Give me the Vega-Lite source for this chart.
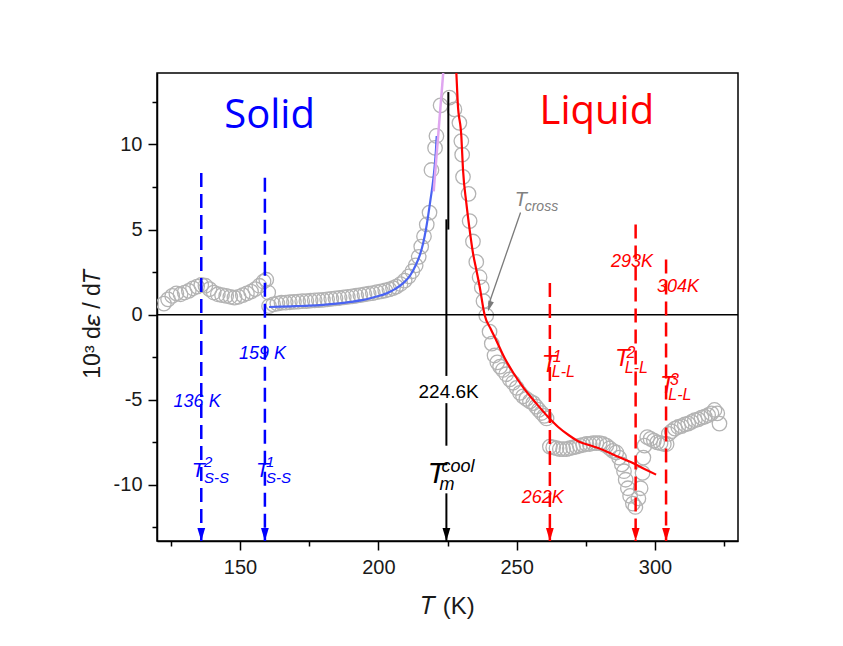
{
  "$schema": "https://vega.github.io/schema/vega-lite/v6.json",
  "width": 581,
  "height": 468,
  "autosize": {"type": "none"},
  "padding": {"left": 157, "top": 73, "right": 105, "bottom": 105},
  "background": "white",
  "config": {
    "view": {"stroke": "black", "strokeWidth": 1.5},
    "axis": {
      "grid": false,
      "domainColor": "black",
      "domainWidth": 1.5,
      "tickColor": "black",
      "tickWidth": 1.5,
      "labelFont": "Liberation Sans",
      "labelFontSize": 20,
      "labelColor": "#1a1a1a",
      "titleFont": "Liberation Sans",
      "titleFontSize": 23,
      "titleFontWeight": "normal",
      "titleColor": "#1a1a1a"
    }
  },
  "datasets": {
    "scatter": [
      {"T": 122.5, "v": 0.65}, {"T": 124, "v": 0.9}, {"T": 125.5, "v": 1.1}, {"T": 127, "v": 1.25},
      {"T": 128.5, "v": 1.2}, {"T": 130, "v": 1.3}, {"T": 131.5, "v": 1.4}, {"T": 133, "v": 1.55},
      {"T": 134.5, "v": 1.65}, {"T": 136, "v": 1.75}, {"T": 137.5, "v": 1.7}, {"T": 139, "v": 1.5},
      {"T": 140.5, "v": 1.3}, {"T": 142, "v": 1.2}, {"T": 143.5, "v": 1.15}, {"T": 145, "v": 1.1},
      {"T": 146.5, "v": 1.05}, {"T": 148, "v": 1.0}, {"T": 149.5, "v": 1.05}, {"T": 151, "v": 1.15},
      {"T": 152.5, "v": 1.25}, {"T": 154, "v": 1.35}, {"T": 155.5, "v": 1.5}, {"T": 157, "v": 1.7},
      {"T": 158.5, "v": 1.95}, {"T": 159.5, "v": 2.05}, {"T": 160.2, "v": 1.3}, {"T": 160.5, "v": 0.5},
      {"T": 162, "v": 0.6}, {"T": 163.5, "v": 0.65}, {"T": 165, "v": 0.7}, {"T": 166.5, "v": 0.71},
      {"T": 168, "v": 0.73}, {"T": 169.5, "v": 0.75}, {"T": 171, "v": 0.77}, {"T": 172.5, "v": 0.79},
      {"T": 174, "v": 0.8}, {"T": 175.5, "v": 0.82}, {"T": 177, "v": 0.84}, {"T": 178.5, "v": 0.85},
      {"T": 180, "v": 0.87}, {"T": 181.5, "v": 0.9}, {"T": 183, "v": 0.93}, {"T": 184.5, "v": 0.96},
      {"T": 186, "v": 0.98}, {"T": 187.5, "v": 1.01}, {"T": 189, "v": 1.04}, {"T": 190.5, "v": 1.07},
      {"T": 192, "v": 1.11}, {"T": 193.5, "v": 1.15}, {"T": 195, "v": 1.19}, {"T": 196.5, "v": 1.23},
      {"T": 198, "v": 1.27}, {"T": 199.5, "v": 1.32}, {"T": 201, "v": 1.37}, {"T": 202.5, "v": 1.42},
      {"T": 204, "v": 1.49}, {"T": 205.3, "v": 1.56}, {"T": 206.5, "v": 1.65}, {"T": 208, "v": 1.8},
      {"T": 209.5, "v": 2.0}, {"T": 211, "v": 2.25}, {"T": 212.3, "v": 2.55}, {"T": 213.5, "v": 2.9},
      {"T": 214.6, "v": 3.4}, {"T": 215.5, "v": 4.0}, {"T": 216.5, "v": 4.6}, {"T": 217.5, "v": 5.3},
      {"T": 218.5, "v": 6.0}, {"T": 219.2, "v": 8.5}, {"T": 220.5, "v": 9.8}, {"T": 221, "v": 10.5},
      {"T": 222.5, "v": 12.3}, {"T": 225.7, "v": 12.75}, {"T": 227.5, "v": 12.06}, {"T": 229.3, "v": 11.27},
      {"T": 230, "v": 10.2}, {"T": 230.3, "v": 9.4}, {"T": 230.6, "v": 8.1}, {"T": 232.6, "v": 7.1},
      {"T": 233, "v": 5.5}, {"T": 234.2, "v": 4.3}, {"T": 235.4, "v": 3.1}, {"T": 236.6, "v": 2.2},
      {"T": 237.4, "v": 1.6}, {"T": 238, "v": 0.8}, {"T": 239, "v": -0.05}, {"T": 240.2, "v": -1.0},
      {"T": 241, "v": -1.7}, {"T": 242, "v": -2.4}, {"T": 243, "v": -2.8}, {"T": 244, "v": -3.05},
      {"T": 245, "v": -3.25}, {"T": 246.2, "v": -3.5}, {"T": 247.5, "v": -3.8}, {"T": 248.7, "v": -4.0},
      {"T": 250, "v": -4.3}, {"T": 251.2, "v": -4.6}, {"T": 252.3, "v": -4.8}, {"T": 253.5, "v": -4.95},
      {"T": 254.8, "v": -5.1}, {"T": 256, "v": -5.2}, {"T": 257, "v": -5.4}, {"T": 258, "v": -5.6},
      {"T": 259, "v": -5.78}, {"T": 260, "v": -5.95}, {"T": 260.8, "v": -6.1}, {"T": 262, "v": -7.75},
      {"T": 263.2, "v": -7.8}, {"T": 264.4, "v": -7.85}, {"T": 265.6, "v": -7.9}, {"T": 266.8, "v": -7.9},
      {"T": 268, "v": -7.9}, {"T": 269.2, "v": -7.85}, {"T": 270.4, "v": -7.8}, {"T": 271.6, "v": -7.75},
      {"T": 272.8, "v": -7.7}, {"T": 274, "v": -7.65}, {"T": 275.2, "v": -7.6}, {"T": 276.4, "v": -7.6},
      {"T": 277.6, "v": -7.55}, {"T": 278.8, "v": -7.55}, {"T": 280, "v": -7.55}, {"T": 281.2, "v": -7.6},
      {"T": 282.4, "v": -7.7}, {"T": 283.6, "v": -7.85}, {"T": 284.8, "v": -8.0}, {"T": 286, "v": -8.1},
      {"T": 287, "v": -8.4}, {"T": 288, "v": -8.8}, {"T": 288.8, "v": -9.2}, {"T": 289.4, "v": -9.7},
      {"T": 290.2, "v": -10.2}, {"T": 291, "v": -10.65}, {"T": 292, "v": -11.1}, {"T": 292.9, "v": -11.3},
      {"T": 294, "v": -10.8}, {"T": 294.8, "v": -10.2}, {"T": 295.5, "v": -9.3}, {"T": 295.8, "v": -8.4},
      {"T": 296.2, "v": -7.7}, {"T": 297.2, "v": -7.2}, {"T": 298.4, "v": -7.3}, {"T": 299.6, "v": -7.4},
      {"T": 300.8, "v": -7.5}, {"T": 302, "v": -7.55}, {"T": 303.2, "v": -7.6}, {"T": 304.2, "v": -7.6},
      {"T": 305, "v": -7.0}, {"T": 306, "v": -6.85}, {"T": 307.2, "v": -6.7}, {"T": 308.4, "v": -6.6},
      {"T": 309.6, "v": -6.55}, {"T": 310.8, "v": -6.45}, {"T": 312, "v": -6.4}, {"T": 313.2, "v": -6.3},
      {"T": 314.4, "v": -6.2}, {"T": 315.6, "v": -6.15}, {"T": 316.8, "v": -6.05}, {"T": 318, "v": -6.0},
      {"T": 319.2, "v": -5.9}, {"T": 320.4, "v": -5.8}, {"T": 321.5, "v": -5.6}, {"T": 322.5, "v": -5.8},
      {"T": 323.3, "v": -6.4}
    ],
    "fitSolid": [
      {"T": 160.5, "v": 0.45}, {"T": 165, "v": 0.47}, {"T": 170, "v": 0.5}, {"T": 175, "v": 0.53},
      {"T": 180, "v": 0.58}, {"T": 185, "v": 0.65}, {"T": 190, "v": 0.75}, {"T": 195, "v": 0.88},
      {"T": 199, "v": 1.05}, {"T": 203, "v": 1.25}, {"T": 206, "v": 1.5}, {"T": 209, "v": 1.85},
      {"T": 211.5, "v": 2.3}, {"T": 213.5, "v": 2.9}, {"T": 215, "v": 3.5}, {"T": 216.2, "v": 4.2},
      {"T": 217.2, "v": 5.0}, {"T": 218, "v": 5.8}, {"T": 218.8, "v": 6.7}, {"T": 219.6, "v": 7.6},
      {"T": 220.3, "v": 8.6}, {"T": 220.8, "v": 9.6}, {"T": 221.1, "v": 10.5}
    ],
    "fitMelt": [
      {"T": 220.0, "v": 7.25}, {"T": 223.45, "v": 14.2}
    ],
    "fitLiquid": [
      {"T": 228.2, "v": 14.2}, {"T": 228.7, "v": 12.45}, {"T": 230, "v": 10.49}, {"T": 230.6, "v": 8.53},
      {"T": 231.8, "v": 6.57}, {"T": 233, "v": 5.0}, {"T": 234.2, "v": 3.63}, {"T": 235.4, "v": 2.65},
      {"T": 236.6, "v": 1.67}, {"T": 238.4, "v": 0.0}, {"T": 240.5, "v": -0.8}, {"T": 242.6, "v": -1.5},
      {"T": 245.5, "v": -2.5}, {"T": 248.7, "v": -3.4}, {"T": 252.5, "v": -4.3}, {"T": 257, "v": -5.2},
      {"T": 261.3, "v": -6.0}, {"T": 265, "v": -6.6}, {"T": 269, "v": -7.1}, {"T": 273, "v": -7.5},
      {"T": 277, "v": -7.7}, {"T": 281.3, "v": -7.95}, {"T": 286, "v": -8.3}, {"T": 291, "v": -8.65},
      {"T": 296, "v": -9.05}, {"T": 300.4, "v": -9.4}
    ],
    "transitions": [
      {"T": 136, "v": 8.33, "phase": "solid"},
      {"T": 159, "v": 8.04, "phase": "solid"},
      {"T": 224.6, "v": 13.08, "phase": "melt"},
      {"T": 262, "v": 1.86, "phase": "liquid"},
      {"T": 293, "v": 5.3, "phase": "liquid"},
      {"T": 304, "v": 3.24, "phase": "liquid"}
    ],
    "meltLine": [
      {"T": 225.3, "v": 13.08, "v2": 5.0},
      {"T": 224.6, "v": 5.6, "v2": -3.6},
      {"T": 224.6, "v": -5.2, "v2": -7.7},
      {"T": 224.6, "v": -10.5, "v2": -13.3}
    ],
    "crossArrow": [
      {"T": 251.4, "v": 6.0, "T2": 239.9, "v2": 0.6, "Tip": 239.6, "vTip": 0.19}
    ],
    "phaseLabels": [
      {"text": "Solid", "T": 160.7, "v": 10.98, "phase": "solid"},
      {"text": "Liquid", "T": 279.0, "v": 11.18, "phase": "liquid"}
    ],
    "valueLabels": [
      {"text": "136 K", "T": 134.5, "v": -5.43, "phase": "solid"},
      {"text": "159 K", "T": 158.1, "v": -2.59, "phase": "solid"},
      {"text": "262K", "T": 259.4, "v": -11.06, "phase": "liquid"},
      {"text": "293K", "T": 291.7, "v": 2.82, "phase": "liquid"},
      {"text": "304K", "T": 308.3, "v": 1.35, "phase": "liquid"}
    ],
    "meltLabel": [
      {"text": "224.6K", "T": 225.4, "v": -4.88}
    ],
    "symbols": [
      {"part": "main", "text": "T", "T": 132.6, "v": -9.53, "phase": "solid"},
      {"part": "sup", "text": "2", "T": 137.0, "v": -8.94, "phase": "solid"},
      {"part": "sub", "text": "S-S", "T": 137.0, "v": -9.88, "phase": "solid"},
      {"part": "main", "text": "T", "T": 155.8, "v": -9.53, "phase": "solid"},
      {"part": "sup", "text": "1", "T": 159.4, "v": -8.94, "phase": "solid"},
      {"part": "sub", "text": "S-S", "T": 159.4, "v": -9.88, "phase": "solid"},
      {"part": "main", "text": "T", "T": 217.8, "v": -9.88, "phase": "melt"},
      {"part": "sup", "text": "cool", "T": 222.8, "v": -9.24, "phase": "melt"},
      {"part": "sub", "text": "m", "T": 222.1, "v": -10.29, "phase": "melt"},
      {"part": "main", "text": "T", "T": 259.1, "v": -3.35, "phase": "liquid"},
      {"part": "sup", "text": "1", "T": 263.0, "v": -2.76, "phase": "liquid"},
      {"part": "sub", "text": "L-L", "T": 262.7, "v": -3.65, "phase": "liquid"},
      {"part": "main", "text": "T", "T": 285.5, "v": -3.04, "phase": "liquid"},
      {"part": "sup", "text": "2", "T": 289.7, "v": -2.55, "phase": "liquid"},
      {"part": "sub", "text": "L-L", "T": 289.1, "v": -3.43, "phase": "liquid"},
      {"part": "main", "text": "T", "T": 301.8, "v": -4.61, "phase": "liquid"},
      {"part": "sup", "text": "3", "T": 305.4, "v": -4.12, "phase": "liquid"},
      {"part": "sub", "text": "L-L", "T": 304.8, "v": -5.0, "phase": "liquid"},
      {"part": "main", "text": "T", "T": 249.3, "v": 6.37, "phase": "cross"},
      {"part": "sub", "text": "cross", "T": 252.9, "v": 6.08, "phase": "cross"}
    ]
  },
  "encoding": {
    "x": {
      "field": "T",
      "type": "quantitative",
      "title": "𝑇  (K)",
      "scale": {"domain": [120, 330], "nice": false, "zero": false},
      "axis": {
        "values": [125, 150, 175, 200, 225, 250, 275, 300, 325],
        "labelExpr": "datum.value % 50 === 0 ? datum.label : ''",
        "tickSize": {"condition": {"test": "datum.value % 50 !== 0", "value": 5}, "value": 9},
        "labelPadding": 7,
        "labelFlush": false,
        "titleFontSize": 24,
        "titleBaseline": "alphabetic",
        "titleY": 72
      }
    },
    "y": {
      "field": "v",
      "type": "quantitative",
      "title": "10³ d𝜀 / d𝑇",
      "scale": {"domain": [-13.3, 14.2], "nice": false, "zero": false},
      "axis": {
        "values": [-12.5, -10, -7.5, -5, -2.5, 0, 2.5, 5, 7.5, 10, 12.5],
        "labelExpr": "datum.value % 5 === 0 ? (datum.value < 0 ? '-' + abs(datum.value) : '' + datum.value) : ''",
        "tickSize": {"condition": {"test": "datum.value % 5 !== 0", "value": 5}, "value": 9},
        "labelPadding": 6,
        "labelFlush": false,
        "titleAngle": -90,
        "titleBaseline": "alphabetic",
        "titleX": -58,
        "titleY": 250
      }
    }
  },
  "layer": [
    {
      "data": {"name": "scatter"},
      "mark": {"type": "point", "shape": "circle", "filled": false, "stroke": "#b3b3b3", "strokeWidth": 1.3, "size": 210, "opacity": 1, "clip": true}
    },
    {
      "data": {"values": [{"v": 0}]},
      "mark": {"type": "rule", "color": "black", "strokeWidth": 1.5},
      "encoding": {"x": null}
    },
    {
      "data": {"name": "fitSolid"},
      "mark": {"type": "line", "color": "#4a63f2", "strokeWidth": 2.2, "interpolate": "monotone"}
    },
    {
      "data": {"name": "fitMelt"},
      "mark": {"type": "line", "color": "#dfa6f0", "strokeWidth": 2.5, "clip": true}
    },
    {
      "data": {"name": "fitLiquid"},
      "mark": {"type": "line", "color": "#ff0000", "strokeWidth": 2.2, "interpolate": "monotone", "clip": true}
    },
    {
      "data": {"name": "transitions"},
      "transform": [{"filter": "datum.phase !== 'melt'"}],
      "mark": {"type": "rule", "strokeWidth": 2.5, "strokeDash": [14, 7]},
      "encoding": {
        "y2": {"datum": -13.3},
        "color": {"field": "phase", "type": "nominal", "legend": null,
          "scale": {"domain": ["solid", "liquid", "melt", "cross"], "range": ["#0000ff", "#ff0000", "#000000", "#808080"]}}
      }
    },
    {
      "data": {"name": "meltLine"},
      "mark": {"type": "rule", "color": "black", "strokeWidth": 2},
      "encoding": {"y2": {"field": "v2"}}
    },
    {
      "data": {"name": "transitions"},
      "mark": {"type": "point", "shape": "M0,0 L-0.6,-2 L0.6,-2 Z", "filled": true, "size": 169, "opacity": 1},
      "encoding": {
        "y": {"datum": -13.3},
        "color": {"field": "phase", "type": "nominal", "legend": null,
          "scale": {"domain": ["solid", "liquid", "melt", "cross"], "range": ["#0000ff", "#ff0000", "#000000", "#808080"]}}
      }
    },
    {
      "data": {"name": "crossArrow"},
      "mark": {"type": "rule", "color": "#7a7a7a", "strokeWidth": 1.3},
      "encoding": {"x2": {"field": "T2"}, "y2": {"field": "v2"}}
    },
    {
      "data": {"name": "crossArrow"},
      "mark": {"type": "point", "shape": "M0,0 L-0.55,-2 L0.55,-2 Z", "filled": true, "size": 110, "opacity": 1, "color": "#7a7a7a", "angle": 18},
      "encoding": {"x": {"field": "Tip", "type": "quantitative"}, "y": {"field": "vTip", "type": "quantitative"}}
    },
    {
      "data": {"name": "phaseLabels"},
      "mark": {"type": "text", "font": "Open Sans", "fontSize": 40, "align": "center", "baseline": "alphabetic"},
      "encoding": {
        "text": {"field": "text"},
        "color": {"field": "phase", "type": "nominal", "legend": null,
          "scale": {"domain": ["solid", "liquid", "melt", "cross"], "range": ["#0000ff", "#ff0000", "#000000", "#808080"]}}
      }
    },
    {
      "data": {"name": "valueLabels"},
      "mark": {"type": "text", "font": "Liberation Sans", "fontStyle": "italic", "fontSize": 18, "align": "center", "baseline": "alphabetic"},
      "encoding": {
        "text": {"field": "text"},
        "color": {"field": "phase", "type": "nominal", "legend": null,
          "scale": {"domain": ["solid", "liquid", "melt", "cross"], "range": ["#0000ff", "#ff0000", "#000000", "#808080"]}}
      }
    },
    {
      "data": {"name": "meltLabel"},
      "mark": {"type": "text", "font": "Liberation Sans", "fontSize": 19, "align": "center", "baseline": "alphabetic", "color": "black"},
      "encoding": {"text": {"field": "text"}}
    },
    {
      "data": {"name": "symbols"},
      "transform": [{"filter": "datum.part === 'main'"}],
      "mark": {"type": "text", "font": "Liberation Sans", "fontStyle": "italic", "align": "left", "baseline": "alphabetic"},
      "encoding": {
        "text": {"field": "text"},
        "size": {
          "condition": [
            {"test": "datum.phase === 'melt'", "value": 30},
            {"test": "datum.phase === 'liquid'", "value": 24},
            {"test": "datum.phase === 'cross'", "value": 20}
          ],
          "value": 21
        },
        "color": {"field": "phase", "type": "nominal", "legend": null,
          "scale": {"domain": ["solid", "liquid", "melt", "cross"], "range": ["#0000ff", "#ff0000", "#000000", "#808080"]}}
      }
    },
    {
      "data": {"name": "symbols"},
      "transform": [{"filter": "datum.part !== 'main'"}],
      "mark": {"type": "text", "font": "Liberation Sans", "fontStyle": "italic", "align": "left", "baseline": "alphabetic"},
      "encoding": {
        "text": {"field": "text"},
        "size": {
          "condition": [
            {"test": "datum.phase === 'melt'", "value": 18},
            {"test": "datum.phase === 'liquid'", "value": 16},
            {"test": "datum.phase === 'cross'", "value": 14}
          ],
          "value": 15
        },
        "color": {"field": "phase", "type": "nominal", "legend": null,
          "scale": {"domain": ["solid", "liquid", "melt", "cross"], "range": ["#0000ff", "#ff0000", "#000000", "#808080"]}}
      }
    }
  ]
}
